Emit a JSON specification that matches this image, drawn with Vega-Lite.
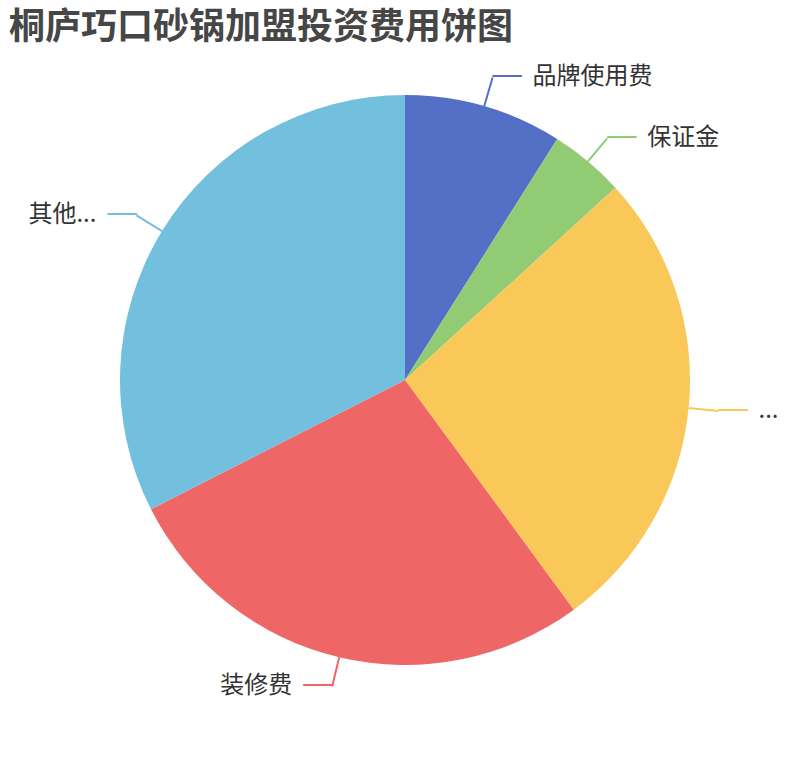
{
  "$schema": "https://vega.github.io/schema/vega-lite/v6.json",
  "width": 810,
  "height": 760,
  "padding": 0,
  "autosize": {"type": "none"},
  "background": "#ffffff",
  "title": {
    "text": "桐庐巧口砂锅加盟投资费用饼图",
    "anchor": "start",
    "frame": "group",
    "baseline": "top",
    "offset": -47,
    "dx": 9,
    "font": "Noto Sans CJK SC",
    "fontSize": 36,
    "fontWeight": "bold",
    "color": "#464646"
  },
  "data": {
    "values": [
      {"idx": 1, "name": "品牌使用费", "value": 8.97},
      {"idx": 2, "name": "保证金", "value": 4.25},
      {"idx": 3, "name": "...", "value": 26.7},
      {"idx": 4, "name": "装修费", "value": 27.6},
      {"idx": 5, "name": "其他...", "value": 32.5}
    ]
  },
  "encoding": {
    "theta": {"field": "value", "type": "quantitative", "stack": true},
    "order": {"field": "idx", "type": "quantitative"}
  },
  "layer": [
    {
      "mark": {"type": "arc", "outerRadius": 285},
      "encoding": {
        "color": {
          "field": "name",
          "type": "nominal",
          "scale": {
            "domain": ["品牌使用费", "保证金", "...", "装修费", "其他..."],
            "range": ["#5470c6", "#91cc75", "#fac858", "#ee6666", "#73c0de"]
          },
          "legend": null
        }
      }
    },
    {
      "mark": {"type": "arc", "radius": 315, "radius2": 285, "padAngle": 3, "filled": false, "strokeWidth": 2},
      "encoding": {
        "color": {"field": "name", "type": "nominal", "legend": null}
      }
    },
    {
      "mark": {"type": "text", "radius": 315, "align": "left", "baseline": "middle", "font": "DejaVu Sans Mono", "fontSize": 24},
      "encoding": {
        "color": {"field": "name", "type": "nominal", "legend": null},
        "text": {
          "condition": {"test": "datum.name !== '装修费' && datum.name !== '其他...'", "value": "──"},
          "value": ""
        }
      }
    },
    {
      "mark": {"type": "text", "radius": 315, "align": "right", "baseline": "middle", "font": "DejaVu Sans Mono", "fontSize": 24},
      "encoding": {
        "color": {"field": "name", "type": "nominal", "legend": null},
        "text": {
          "condition": {"test": "datum.name === '装修费' || datum.name === '其他...'", "value": "──"},
          "value": ""
        }
      }
    },
    {
      "mark": {"type": "text", "radius": 315, "dx": 40, "align": "left", "baseline": "middle", "font": "Noto Sans CJK SC", "fontSize": 24, "color": "#333333"},
      "encoding": {
        "detail": {"field": "name", "type": "nominal"},
        "text": {
          "condition": {"test": "datum.name !== '装修费' && datum.name !== '其他...'", "field": "name"},
          "value": ""
        }
      }
    },
    {
      "mark": {"type": "text", "radius": 315, "dx": -40, "align": "right", "baseline": "middle", "font": "Noto Sans CJK SC", "fontSize": 24, "color": "#333333"},
      "encoding": {
        "detail": {"field": "name", "type": "nominal"},
        "text": {
          "condition": {"test": "datum.name === '装修费' || datum.name === '其他...'", "field": "name"},
          "value": ""
        }
      }
    }
  ],
  "config": {"view": {"stroke": null}}
}
